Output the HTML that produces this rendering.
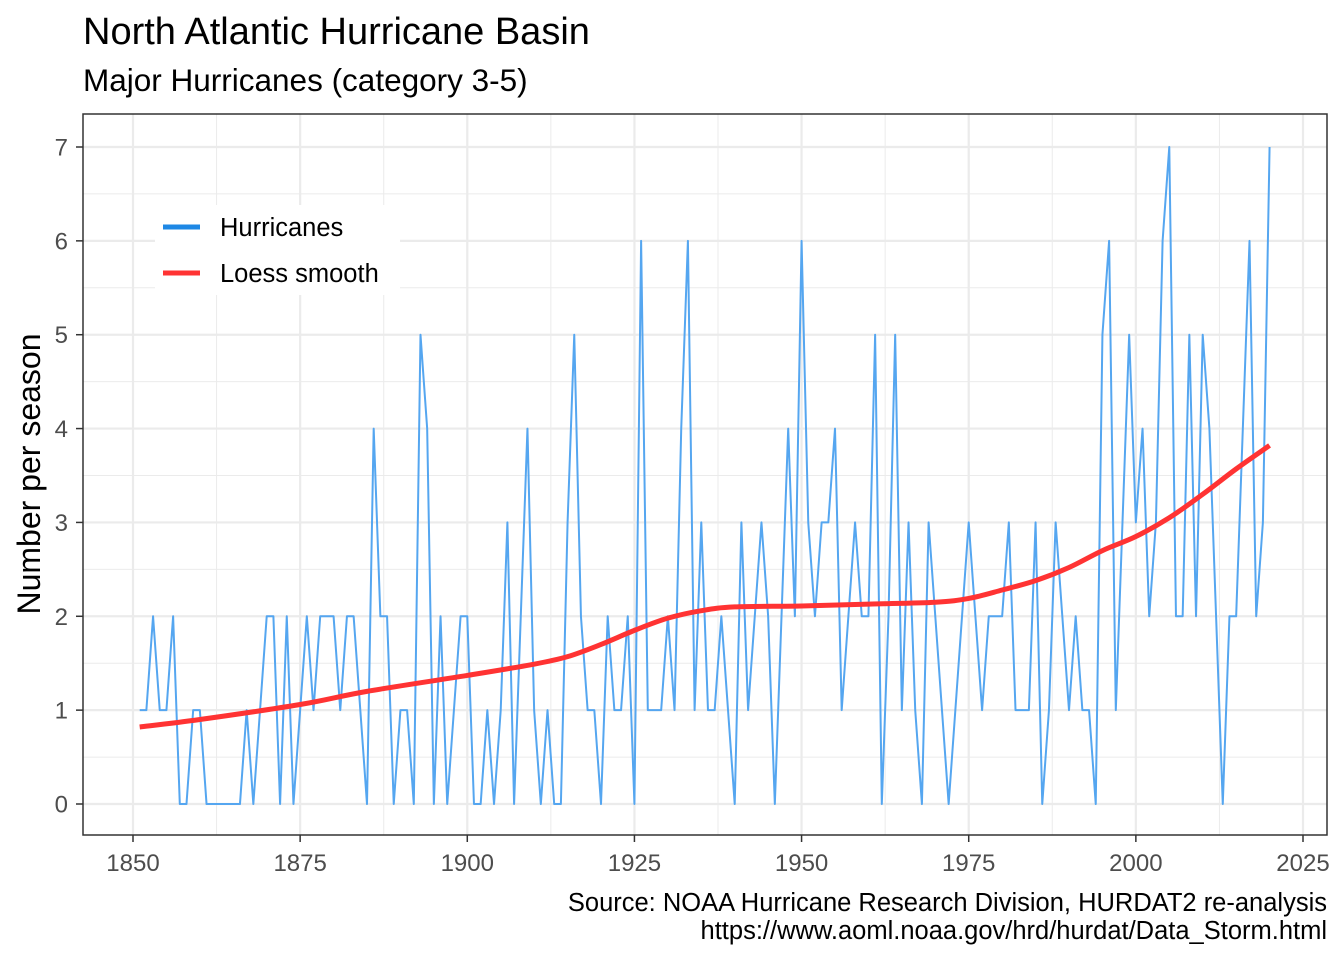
<!DOCTYPE html>
<html><head><meta charset="utf-8"><style>
body{margin:0;background:#fff;}
svg text{font-family:"Liberation Sans",Arial,sans-serif;}
</style></head><body>
<svg id="chart" width="1344" height="960" xmlns="http://www.w3.org/2000/svg">
<rect width="1344" height="960" fill="#fff"/>
<text x="83" y="44" font-size="38" fill="#000">North Atlantic Hurricane Basin</text>
<text x="83" y="91" font-size="31.5" fill="#000">Major Hurricanes (category 3-5)</text>
<g id="grid"></g>
<g id="series"></g>
<rect x="83" y="114" width="1244" height="721" fill="none" stroke="#333" stroke-width="1.5"/>
<g id="axes"></g>
<text transform="translate(40,474) rotate(-90)" text-anchor="middle" font-size="32" fill="#000">Number per season</text>
<g>
<rect x="155" y="205" width="245" height="90" fill="#fff"/>
<line x1="163" y1="227" x2="200" y2="227" stroke="#1e88e5" stroke-width="5"/>
<text x="220" y="236" font-size="25.5" fill="#000">Hurricanes</text>
<line x1="163" y1="273" x2="200" y2="273" stroke="#ff3333" stroke-width="5"/>
<text x="220" y="282" font-size="25.5" fill="#000">Loess smooth</text>
</g>
<text x="1327" y="911" text-anchor="end" font-size="25.5" fill="#000">Source: NOAA Hurricane Research Division, HURDAT2 re-analysis</text>
<text x="1327" y="939" text-anchor="end" font-size="25.5" fill="#000">https://www.aoml.noaa.gov/hrd/hurdat/Data_Storm.html</text>
</svg>
<script>
const startYear = 1851;
const counts = [1,1,2,1,1,2,0,0,1,1, 0,0,0,0,0,0,1,0,1,2, 2,0,2,0,1,2,1,2,2,2, 1,2,2,1,0,4,2,2,0,1, 1,0,5,4,0,2,0,1,2,2, 0,0,1,0,1,3,0,2,4,1, 0,1,0,0,3,5,2,1,1,0, 2,1,1,2,0,6,1,1,1,2, 1,4,6,1,3,1,1,2,1,0, 3,1,2,3,2,0,2,4,2,6, 3,2,3,3,4,1,2,3,2,2, 5,0,2,5,1,3,1,0,3,2, 1,0,1,2,3,2,1,2,2,2, 3,1,1,1,3,0,1,3,2,1, 2,1,1,0,5,6,1,3,5,3, 4,2,3,6,7,2,2,5,2,5, 4,2,0,2,2,4,6,2,3,7];
const smoothYears = [1851,1860,1875,1885,1900,1910,1915,1920,1925,1930,1935,1940,1950,1960,1970,1975,1980,1985,1990,1995,2000,2005,2010,2015,2020];
const smoothValues = [0.82,0.9,1.06,1.2,1.37,1.49,1.57,1.7,1.85,1.98,2.06,2.1,2.11,2.13,2.15,2.19,2.28,2.38,2.52,2.7,2.85,3.05,3.3,3.57,3.82];
const xTicks = [1850,1875,1900,1925,1950,1975,2000,2025];
const yTicks = [0,1,2,3,4,5,6,7];

const NS='http://www.w3.org/2000/svg';
const X = v => 133 + (v-1850)*(1170/175);
const Y = v => 804 - v*(657/7);
function mk(tag, attrs, parent){const e=document.createElementNS(NS,tag);for(const k in attrs)e.setAttribute(k,attrs[k]);parent.appendChild(e);return e;}
const grid=document.getElementById('grid'), axes=document.getElementById('axes'), series=document.getElementById('series');
for(let i=0;i<xTicks.length-1;i++){const m=(xTicks[i]+xTicks[i+1])/2;
 const l=mk('line',{x1:X(m),x2:X(m),y1:114,y2:835,stroke:'#ebebeb','stroke-width':1},grid);
 
 }
for(let i=0;i<yTicks.length-1;i++){const m=(yTicks[i]+yTicks[i+1])/2;
 const l=mk('line',{x1:83,x2:1327,y1:Y(m),y2:Y(m),stroke:'#ebebeb','stroke-width':1},grid);
 
 }
xTicks.forEach(t=>{
 const l=mk('line',{x1:X(t),x2:X(t),y1:114,y2:835,stroke:'#ebebeb','stroke-width':2.2},grid);
 
 
 const tk=mk('line',{x1:X(t),x2:X(t),y1:835,y2:842,stroke:'#333','stroke-width':1.5},axes);
 
 
 const tx=mk('text',{x:X(t),y:871,'text-anchor':'middle','font-size':24,fill:'#4d4d4d'},axes);
 tx.textContent=t;
 
 
});
yTicks.forEach(t=>{
 const l=mk('line',{x1:83,x2:1327,y1:Y(t),y2:Y(t),stroke:'#ebebeb','stroke-width':2.2},grid);
 
 
 const tk=mk('line',{x1:76,x2:83,y1:Y(t),y2:Y(t),stroke:'#333','stroke-width':1.5},axes);
 
 
 const tx=mk('text',{x:68,y:Y(t)+8.5,'text-anchor':'end','font-size':24,fill:'#4d4d4d'},axes);
 tx.textContent=t;
 
 
});
const hp=mk('polyline',{points:counts.map((c,i)=>X(startYear+i)+','+Y(c)).join(' '),fill:'none',stroke:'#55a6f0','stroke-width':2,'stroke-linejoin':'round'},series);


const pts=smoothYears.map((y,i)=>[X(y),Y(smoothValues[i])]);
let d='M'+pts[0][0]+','+pts[0][1];
for(let i=0;i<pts.length-1;i++){const p0=pts[Math.max(0,i-1)],p1=pts[i],p2=pts[i+1],p3=pts[Math.min(pts.length-1,i+2)];
 d+=' C'+(p1[0]+(p2[0]-p0[0])/6)+','+(p1[1]+(p2[1]-p0[1])/6)+' '+(p2[0]-(p3[0]-p1[0])/6)+','+(p2[1]-(p3[1]-p1[1])/6)+' '+p2[0]+','+p2[1];}
const sp=mk('path',{d:d,fill:'none',stroke:'#ff3333','stroke-width':5},series);


</script>
</body></html>
